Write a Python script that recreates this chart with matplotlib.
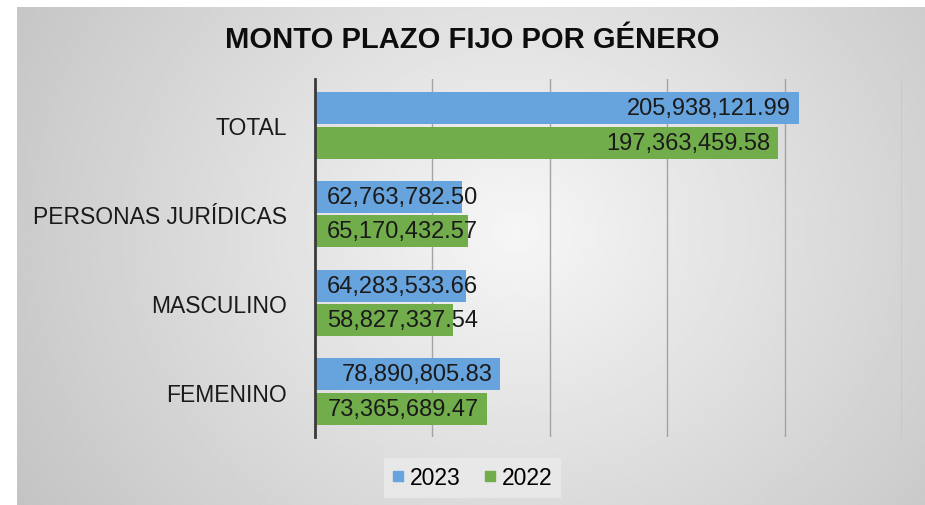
import numpy as np
import matplotlib
matplotlib.use('Agg')
import matplotlib.pyplot as plt
from matplotlib.lines import Line2D

plt.rcParams['font.family'] = ['Liberation Sans', 'DejaVu Sans']

categories = ['FEMENINO', 'MASCULINO', 'PERSONAS JURÍDICAS', 'TOTAL']
v2023 = [78890805.83, 64283533.66, 62763782.50, 205938121.99]
v2022 = [73365689.47, 58827337.54, 65170432.57, 197363459.58]
series_names = ['2023', '2022']

BLUE = '#67a3dc'
GREEN = '#71ad4a'

fig = plt.figure(figsize=(9.25, 5.06), dpi=100)
fig.patch.set_facecolor('white')

# gray gradient panel behind everything
ax_bg = fig.add_axes([17/925, 0, 1 - 17/925, 1 - 8/506], zorder=0)
ax_bg.axis('off')
yy, xx = np.mgrid[0:1:200j, 0:1:400j]
d = np.sqrt(((xx - 0.55) / 0.62) ** 2 + ((yy - 0.45) / 1.0) ** 2)
gray = np.clip(0.965 - 0.19 * d, 0, 1)
ax_bg.imshow(gray, cmap='gray', vmin=0, vmax=1, aspect='auto',
             extent=[0, 1, 0, 1], interpolation='bilinear')

ax = fig.add_axes([315/925, 1 - 438/506, (902 - 315)/925, (438 - 80)/506], zorder=1)
ax.patch.set_alpha(0)

y = np.arange(len(categories))
off = 0.195
h = 0.36
b1 = ax.barh(y + off, v2023, height=h, color=BLUE, label=series_names[0])
b2 = ax.barh(y - off, v2022, height=h, color=GREEN, label=series_names[1])

ax.set_xlim(0, 250e6)
ax.set_ylim(-0.51, 3.52)
ax.set_xticks(np.arange(50e6, 251e6, 50e6))
ax.set_xticklabels([])
ax.tick_params(axis='x', length=0)
ax.grid(axis='x', color='#a3a3a3', linewidth=1)
ax.set_axisbelow(True)
ax.set_yticks(y)
ax.set_yticklabels(categories, fontsize=16.5)
ax.tick_params(axis='y', length=0, pad=20, labelcolor='#1a1a1a')
for s in ['top', 'right', 'bottom']:
    ax.spines[s].set_visible(False)
ax.spines['left'].set_color('#3a3a3a')
ax.spines['left'].set_linewidth(2)

fig.canvas.draw()
renderer = fig.canvas.get_renderer()
px_per_unit = ax.bbox.width / 250e6
for bars, vals in [(b1, v2023), (b2, v2022)]:
    for bar, v in zip(bars, vals):
        yc = bar.get_y() + bar.get_height() / 2
        txt = f'{v:,.2f}'
        t = ax.text(0, yc, txt, fontsize=17, color='#1a1a1a', va='center', ha='left')
        w = t.get_window_extent(renderer).width
        bar_px = v * px_per_unit
        if w + 20 < bar_px:
            t.set_position((v - 8 / px_per_unit, yc))
            t.set_ha('right')
        else:
            t.set_position((12 / px_per_unit, yc))

fig.text(472/925, 1 - 40/506, 'MONTO PLAZO FIJO POR GÉNERO', fontsize=21,
         fontweight='bold', ha='center', va='center', color='#0d0d0d')

handles = [Line2D([], [], marker='s', linestyle='none', markersize=7, color=BLUE),
           Line2D([], [], marker='s', linestyle='none', markersize=7, color=GREEN)]
leg = fig.legend(handles, series_names, loc='center', bbox_to_anchor=(472/925, 1 - 479/506),
                 ncol=2, fontsize=16.5, frameon=True, handlelength=0.6, handletextpad=0.2,
                 columnspacing=1.0, borderpad=0.35)
leg.get_frame().set_facecolor('#ebebeb')
leg.get_frame().set_edgecolor('none')
leg.get_frame().set_boxstyle('square', pad=0.0)

fig.savefig('out.png', dpi=100)
